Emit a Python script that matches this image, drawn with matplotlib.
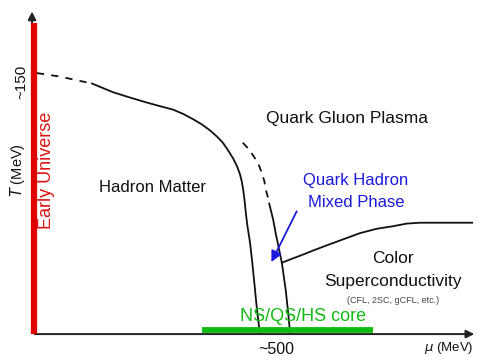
import matplotlib
matplotlib.use('Agg')
import matplotlib.pyplot as plt

plt.rcParams['font.family'] = ['Liberation Sans', 'DejaVu Sans']

# hadron / QGP boundary (mu in MeV, T in MeV), dashed part then solid part
hadron_dash_mu = [10, 57, 123]
hadron_dash_T = [150, 148, 144]
hadron_mu = [123, 166, 200, 236, 262, 289, 310, 330, 348, 365, 379, 391, 402, 412, 420, 426, 430, 433, 435.5, 438, 441, 444, 447, 451, 455, 461, 467]
hadron_T = [144, 139, 136, 133, 131, 129, 126.5, 123.5, 120.5, 117, 113.5, 110, 105.5, 101, 96.5, 92, 87.5, 82.5, 77, 70, 63, 57.5, 52, 42, 31, 14, 0]

# quark side boundary of the mixed phase
quark_dash_mu = [432, 445, 457, 465, 471, 476, 479, 483, 486]
quark_dash_T = [110, 106, 101, 97, 92.5, 88, 83, 79, 75]
quark_mu = [486, 494, 500, 506, 512, 516, 520, 525, 529]
quark_T = [75, 66, 57, 49, 41, 33, 25, 12, 0]

# colour superconductivity boundary
csc_mu = [512, 530, 549, 576, 604, 638, 672, 706, 740, 768, 795, 850, 902]
csc_T = [41, 43, 45, 48, 51, 54.5, 58, 60.5, 62, 63.5, 64, 64, 64]

# NS/QS/HS core range and early universe line
core_mu = [348, 699]
early_T = [0, 179]

fig = plt.figure(figsize=(4.78, 3.56), dpi=100)
ax = fig.add_axes([0, 0, 1, 1])
ax.set_xlim(-65.6, 913.9)
ax.set_ylim(-12.6, 192)
ax.axis('off')

# axes with arrows
ax.annotate('', xy=(912, 0), xytext=(0, 0),
            arrowprops=dict(arrowstyle='-|>', color='#222222', lw=1.4, mutation_scale=12))
ax.annotate('', xy=(0, 187), xytext=(0, 0),
            arrowprops=dict(arrowstyle='-|>', color='#222222', lw=1.4, mutation_scale=12))

# early universe bar
ax.plot([5, 5], early_T, color='#e00000', lw=4.5, solid_capstyle='butt', zorder=3)

# core bar
ax.plot(core_mu, [2.3, 2.3], color='#11bb11', lw=4.2, solid_capstyle='butt', zorder=3)

# phase boundaries
ax.plot(hadron_dash_mu, hadron_dash_T, color='#111111', lw=1.3, dashes=(4, 4))
ax.plot(hadron_mu, hadron_T, color='#111111', lw=1.3)
ax.plot(quark_dash_mu, quark_dash_T, color='#111111', lw=1.3, dashes=(4, 3.5))
ax.plot(quark_mu, quark_T, color='#111111', lw=1.3)
ax.plot(csc_mu, csc_T, color='#111111', lw=1.3)

# arrow into the mixed phase
ax.annotate('', xy=(488, 40), xytext=(545, 72),
            arrowprops=dict(arrowstyle='-|>', color='#1a1add', lw=1.3, mutation_scale=16))

# labels
ax.text(246, 84, 'Hadron Matter', fontsize=12, ha='center', va='center', color='#111111')
ax.text(645, 124, 'Quark Gluon Plasma', fontsize=12.5, ha='center', va='center', color='#111111')
ax.text(664, 88.5, 'Quark Hadron', fontsize=12, ha='center', va='center', color='#1a1add')
ax.text(664, 75.5, 'Mixed Phase', fontsize=12, ha='center', va='center', color='#1a1add')
ax.text(740, 43.5, 'Color', fontsize=12.5, ha='center', va='center', color='#111111')
ax.text(740, 30, 'Superconductivity', fontsize=12.5, ha='center', va='center', color='#111111')
ax.text(740, 19.5, '(CFL, 2SC, gCFL, etc.)', fontsize=6.5, ha='center', va='center', color='#444444')
ax.text(555, 10, 'NS/QS/HS core', fontsize=13, ha='center', va='center', color='#11bb11')
ax.text(500, -9, '~500', fontsize=11.5, ha='center', va='center', color='#111111')
ax.text(855, -8, r'$\mu$ (MeV)', fontsize=9.5, ha='center', va='center', color='#111111')
ax.text(-30, 94, r'$T$ (MeV)', fontsize=10.5, ha='center', va='center', rotation=90, color='#111111')
ax.text(-22, 145, '~150', fontsize=11, ha='center', va='center', rotation=90, color='#111111')
ax.text(30, 94, 'Early Universe', fontsize=13, ha='center', va='center', rotation=90, color='#dd1111')

fig.savefig('out.png', dpi=100)
